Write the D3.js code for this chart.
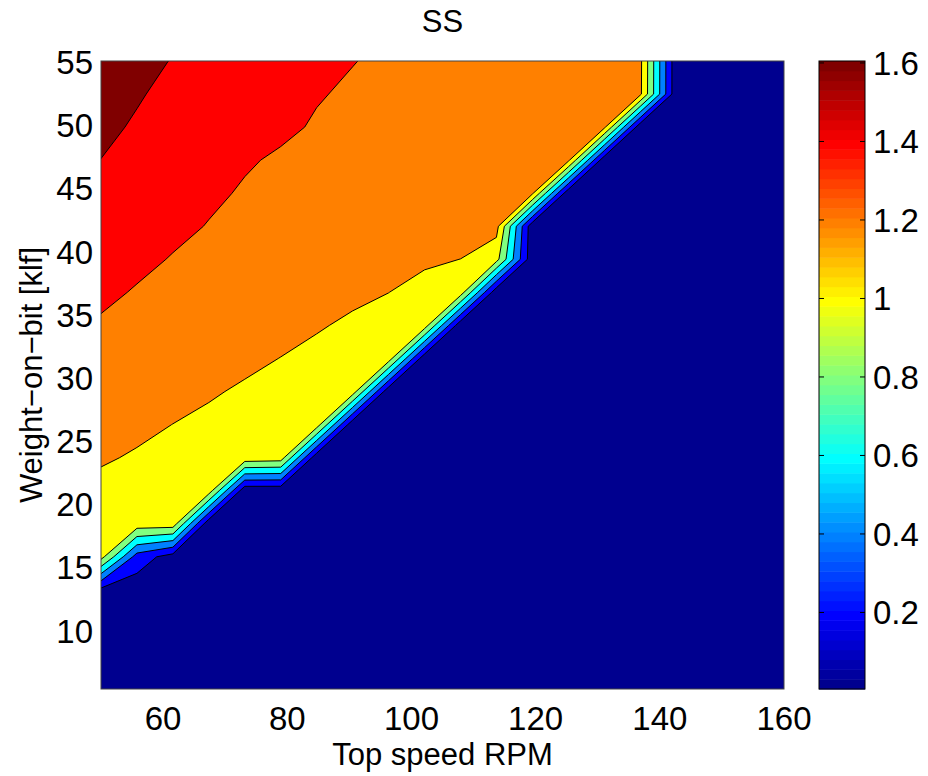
<!DOCTYPE html>
<html>
<head>
<meta charset="utf-8">
<script src="https://cdn.jsdelivr.net/npm/d3@7"></script>
<style>
body { margin: 0; background: #fff; }
text { font-family: "Liberation Sans", Arial, Helvetica, sans-serif; fill: #000; }
</style>
</head>
<body>
<div id="chart"></div>
<script>
// grid of the surface (top speed RPM x weight-on-bit klf)
var rpm = [50, 55.79, 61.58, 67.37, 73.16, 78.95, 84.74, 90.53, 96.32, 102.11,
           107.89, 113.68, 119.47, 125.26, 131.05, 136.84, 142.63, 148.42, 154.21, 160];
var wob = [5.30, 7.92, 10.53, 13.15, 15.76, 18.38, 21.00, 23.61, 26.23, 28.84,
           31.46, 34.08, 36.69, 39.31, 41.92, 44.54, 47.15, 49.77, 52.38, 55.00];

// SS value, one row per wob value (bottom to top), one column per rpm value
var ss = [
  [0.06,0.06,0.06,0.06,0.06,0.06,0.06,0.06,0.06,0.06,0.06,0.06,0.06,0.06,0.06,0.06,0.06,0.06,0.06,0.06],
  [0.06,0.06,0.06,0.06,0.06,0.06,0.06,0.06,0.06,0.06,0.06,0.06,0.06,0.06,0.06,0.06,0.06,0.06,0.06,0.06],
  [0.06,0.06,0.06,0.06,0.06,0.06,0.06,0.06,0.06,0.06,0.06,0.06,0.06,0.06,0.06,0.06,0.06,0.06,0.06,0.06],
  [0.15,0.09,0.06,0.06,0.06,0.06,0.06,0.06,0.06,0.06,0.06,0.06,0.06,0.06,0.06,0.06,0.06,0.06,0.06,0.06],
  [1.07,0.31,0.11,0.06,0.06,0.06,0.06,0.06,0.06,0.06,0.06,0.06,0.06,0.06,0.06,0.06,0.06,0.06,0.06,0.06],
  [1.12,1.11,1.11,0.06,0.06,0.06,0.06,0.06,0.06,0.06,0.06,0.06,0.06,0.06,0.06,0.06,0.06,0.06,0.06,0.06],
  [1.167,1.145,1.122,1.10,0.06,0.06,0.06,0.06,0.06,0.06,0.06,0.06,0.06,0.06,0.06,0.06,0.06,0.06,0.06,0.06],
  [1.213,1.188,1.166,1.144,1.122,1.10,0.06,0.06,0.06,0.06,0.06,0.06,0.06,0.06,0.06,0.06,0.06,0.06,0.06,0.06],
  [1.256,1.227,1.199,1.174,1.149,1.125,1.10,0.06,0.06,0.06,0.06,0.06,0.06,0.06,0.06,0.06,0.06,0.06,0.06,0.06],
  [1.299,1.270,1.241,1.213,1.184,1.156,1.128,1.10,0.06,0.06,0.06,0.06,0.06,0.06,0.06,0.06,0.06,0.06,0.06,0.06],
  [1.342,1.313,1.284,1.256,1.227,1.198,1.165,1.133,1.10,0.06,0.06,0.06,0.06,0.06,0.06,0.06,0.06,0.06,0.06,0.06],
  [1.385,1.356,1.327,1.299,1.270,1.241,1.212,1.178,1.139,1.10,0.06,0.06,0.06,0.06,0.06,0.06,0.06,0.06,0.06,0.06],
  [1.427,1.390,1.363,1.336,1.309,1.282,1.255,1.228,1.201,1.151,1.10,0.06,0.06,0.06,0.06,0.06,0.06,0.06,0.06,0.06],
  [1.470,1.429,1.393,1.369,1.345,1.320,1.296,1.272,1.248,1.223,1.199,1.07,0.06,0.06,0.06,0.06,0.06,0.06,0.06,0.06],
  [1.512,1.470,1.428,1.395,1.378,1.362,1.346,1.330,1.314,1.298,1.282,1.266,0.06,0.06,0.06,0.06,0.06,0.06,0.06,0.06],
  [1.555,1.510,1.465,1.420,1.389,1.369,1.349,1.329,1.309,1.289,1.269,1.249,1.230,0.06,0.06,0.06,0.06,0.06,0.06,0.06],
  [1.598,1.551,1.505,1.458,1.411,1.386,1.368,1.350,1.331,1.313,1.295,1.277,1.258,1.240,0.06,0.06,0.06,0.06,0.06,0.06],
  [1.640,1.580,1.540,1.500,1.460,1.420,1.390,1.371,1.353,1.334,1.315,1.296,1.277,1.259,1.240,0.06,0.06,0.06,0.06,0.06],
  [1.683,1.616,1.554,1.517,1.481,1.444,1.407,1.386,1.367,1.349,1.331,1.313,1.295,1.276,1.258,1.240,0.06,0.06,0.06,0.06],
  [1.720,1.655,1.592,1.554,1.516,1.478,1.441,1.403,1.382,1.363,1.343,1.324,1.304,1.285,1.265,1.246,0.06,0.06,0.06,0.06]
];

var levels = [0, 0.2, 0.4, 0.6, 0.8, 1.0, 1.2, 1.4, 1.6];
var levelColorIndex = [1, 8, 16, 24, 32, 40, 48, 56, 64];   // jet(64) entries
var xTicks = [60, 80, 100, 120, 140, 160];
var yTicks = [10, 15, 20, 25, 30, 35, 40, 45, 50, 55];
var cbTicks = [0.2, 0.4, 0.6, 0.8, 1, 1.2, 1.4, 1.6];
var cbRange = [0.005, 1.605];

// MATLAB jet(64)
function jet(i) {
    function u(k) { return (k < 1 || k > 47) ? 0 : k <= 16 ? k / 16 : k <= 31 ? 1 : (48 - k) / 16; }
    return d3.rgb(255 * u(i - 24), 255 * u(i - 8), 255 * u(i + 8)).toString();
}

var W = 928, H = 776;
var plotL = 101, plotR = 784, plotT = 61, plotB = 689;

var svg = d3.select("#chart").append("svg")
    .attr("width", W).attr("height", H)
    .attr("viewBox", "0 0 " + W + " " + H);

var x = d3.scaleLinear().domain([50, 160]).range([plotL, plotR]);
var y = d3.scaleLinear().domain([5.3, 55]).range([plotB, plotT]);

// contour grid space -> data space
var nx = rpm.length, ny = wob.length;
var gx = d3.scaleLinear().domain([0.5, nx - 0.5]).range([rpm[0], rpm[nx - 1]]);
var gy = d3.scaleLinear().domain([0.5, ny - 0.5]).range([wob[0], wob[ny - 1]]);

var proj = d3.geoTransform({
    point: function(px, py) { this.stream.point(x(gx(px)), y(gy(py))); }
});
var path = d3.geoPath(proj);

var values = [];
ss.forEach(function(row) { row.forEach(function(v) { values.push(v); }); });

var contours = d3.contours().size([nx, ny]).thresholds(levels)(values);

svg.append("clipPath").attr("id", "plotclip")
  .append("rect")
    .attr("x", plotL).attr("y", plotT)
    .attr("width", plotR - plotL).attr("height", plotB - plotT);

var g = svg.append("g").attr("clip-path", "url(#plotclip)");

g.append("rect")
    .attr("x", plotL).attr("y", plotT)
    .attr("width", plotR - plotL).attr("height", plotB - plotT)
    .attr("fill", jet(1));

g.selectAll(".band")
    .data(contours).enter().append("path")
    .attr("class", "band")
    .attr("d", path)
    .attr("fill", function(d, i) { return jet(levelColorIndex[i]); })
    .attr("stroke", "none");

g.selectAll(".iso")
    .data(contours.slice(1)).enter().append("path")
    .attr("class", "iso")
    .attr("d", path)
    .attr("fill", "none")
    .attr("stroke", "#000")
    .attr("stroke-width", 1);

svg.append("rect")
    .attr("x", plotL).attr("y", plotT)
    .attr("width", plotR - plotL).attr("height", plotB - plotT)
    .attr("fill", "none").attr("stroke", "#444").attr("stroke-width", 1);

// tick labels
svg.selectAll(".xt").data(xTicks).enter().append("text")
    .attr("x", function(d) { return x(d); })
    .attr("y", 730)
    .attr("text-anchor", "middle")
    .style("font-size", "33px")
    .text(function(d) { return d; });

svg.selectAll(".yt").data(yTicks).enter().append("text")
    .attr("x", 93)
    .attr("y", function(d) { return y(d) + 13; })
    .attr("text-anchor", "end")
    .style("font-size", "33px")
    .text(function(d) { return d; });

svg.append("text")
    .attr("x", (plotL + plotR) / 2).attr("y", 765)
    .attr("text-anchor", "middle")
    .style("font-size", "31px")
    .text("Top speed RPM");

svg.append("text")
    .attr("transform", "translate(42," + ((plotT + plotB) / 2) + ") rotate(-90)")
    .attr("text-anchor", "middle")
    .style("font-size", "31px")
    .text("Weight\u2212on\u2212bit [klf]");

svg.append("text")
    .attr("x", (plotL + plotR) / 2).attr("y", 32)
    .attr("text-anchor", "middle")
    .style("font-size", "31px")
    .text("SS");

// colorbar
var cbL = 819, cbR = 865;
var cy = d3.scaleLinear().domain(cbRange).range([plotB, plotT]);
var step = (cbRange[1] - cbRange[0]) / 64;
var cb = svg.append("g");
cb.selectAll(".cbcell")
    .data(d3.range(1, 65)).enter().append("rect")
    .attr("x", cbL)
    .attr("width", cbR - cbL)
    .attr("y", function(d) { return cy(cbRange[0] + d * step); })
    .attr("height", function(d) { return cy(cbRange[0] + (d - 1) * step) - cy(cbRange[0] + d * step) + 0.5; })
    .attr("fill", function(d) { return jet(d); });

cb.selectAll(".cbtl").data(cbTicks).enter().append("line")
    .attr("x1", cbL).attr("x2", cbL + 5)
    .attr("y1", function(d) { return cy(d); }).attr("y2", function(d) { return cy(d); })
    .attr("stroke", "#000");
cb.selectAll(".cbtr").data(cbTicks).enter().append("line")
    .attr("x1", cbR - 5).attr("x2", cbR)
    .attr("y1", function(d) { return cy(d); }).attr("y2", function(d) { return cy(d); })
    .attr("stroke", "#000");

cb.append("rect")
    .attr("x", cbL).attr("y", plotT)
    .attr("width", cbR - cbL).attr("height", plotB - plotT)
    .attr("fill", "none").attr("stroke", "#000").attr("stroke-width", 1);

cb.selectAll(".cbl").data(cbTicks).enter().append("text")
    .attr("x", 873)
    .attr("y", function(d) { return cy(d) + 12; })
    .style("font-size", "33px")
    .text(function(d) { return d; });
</script>
</body>
</html>
